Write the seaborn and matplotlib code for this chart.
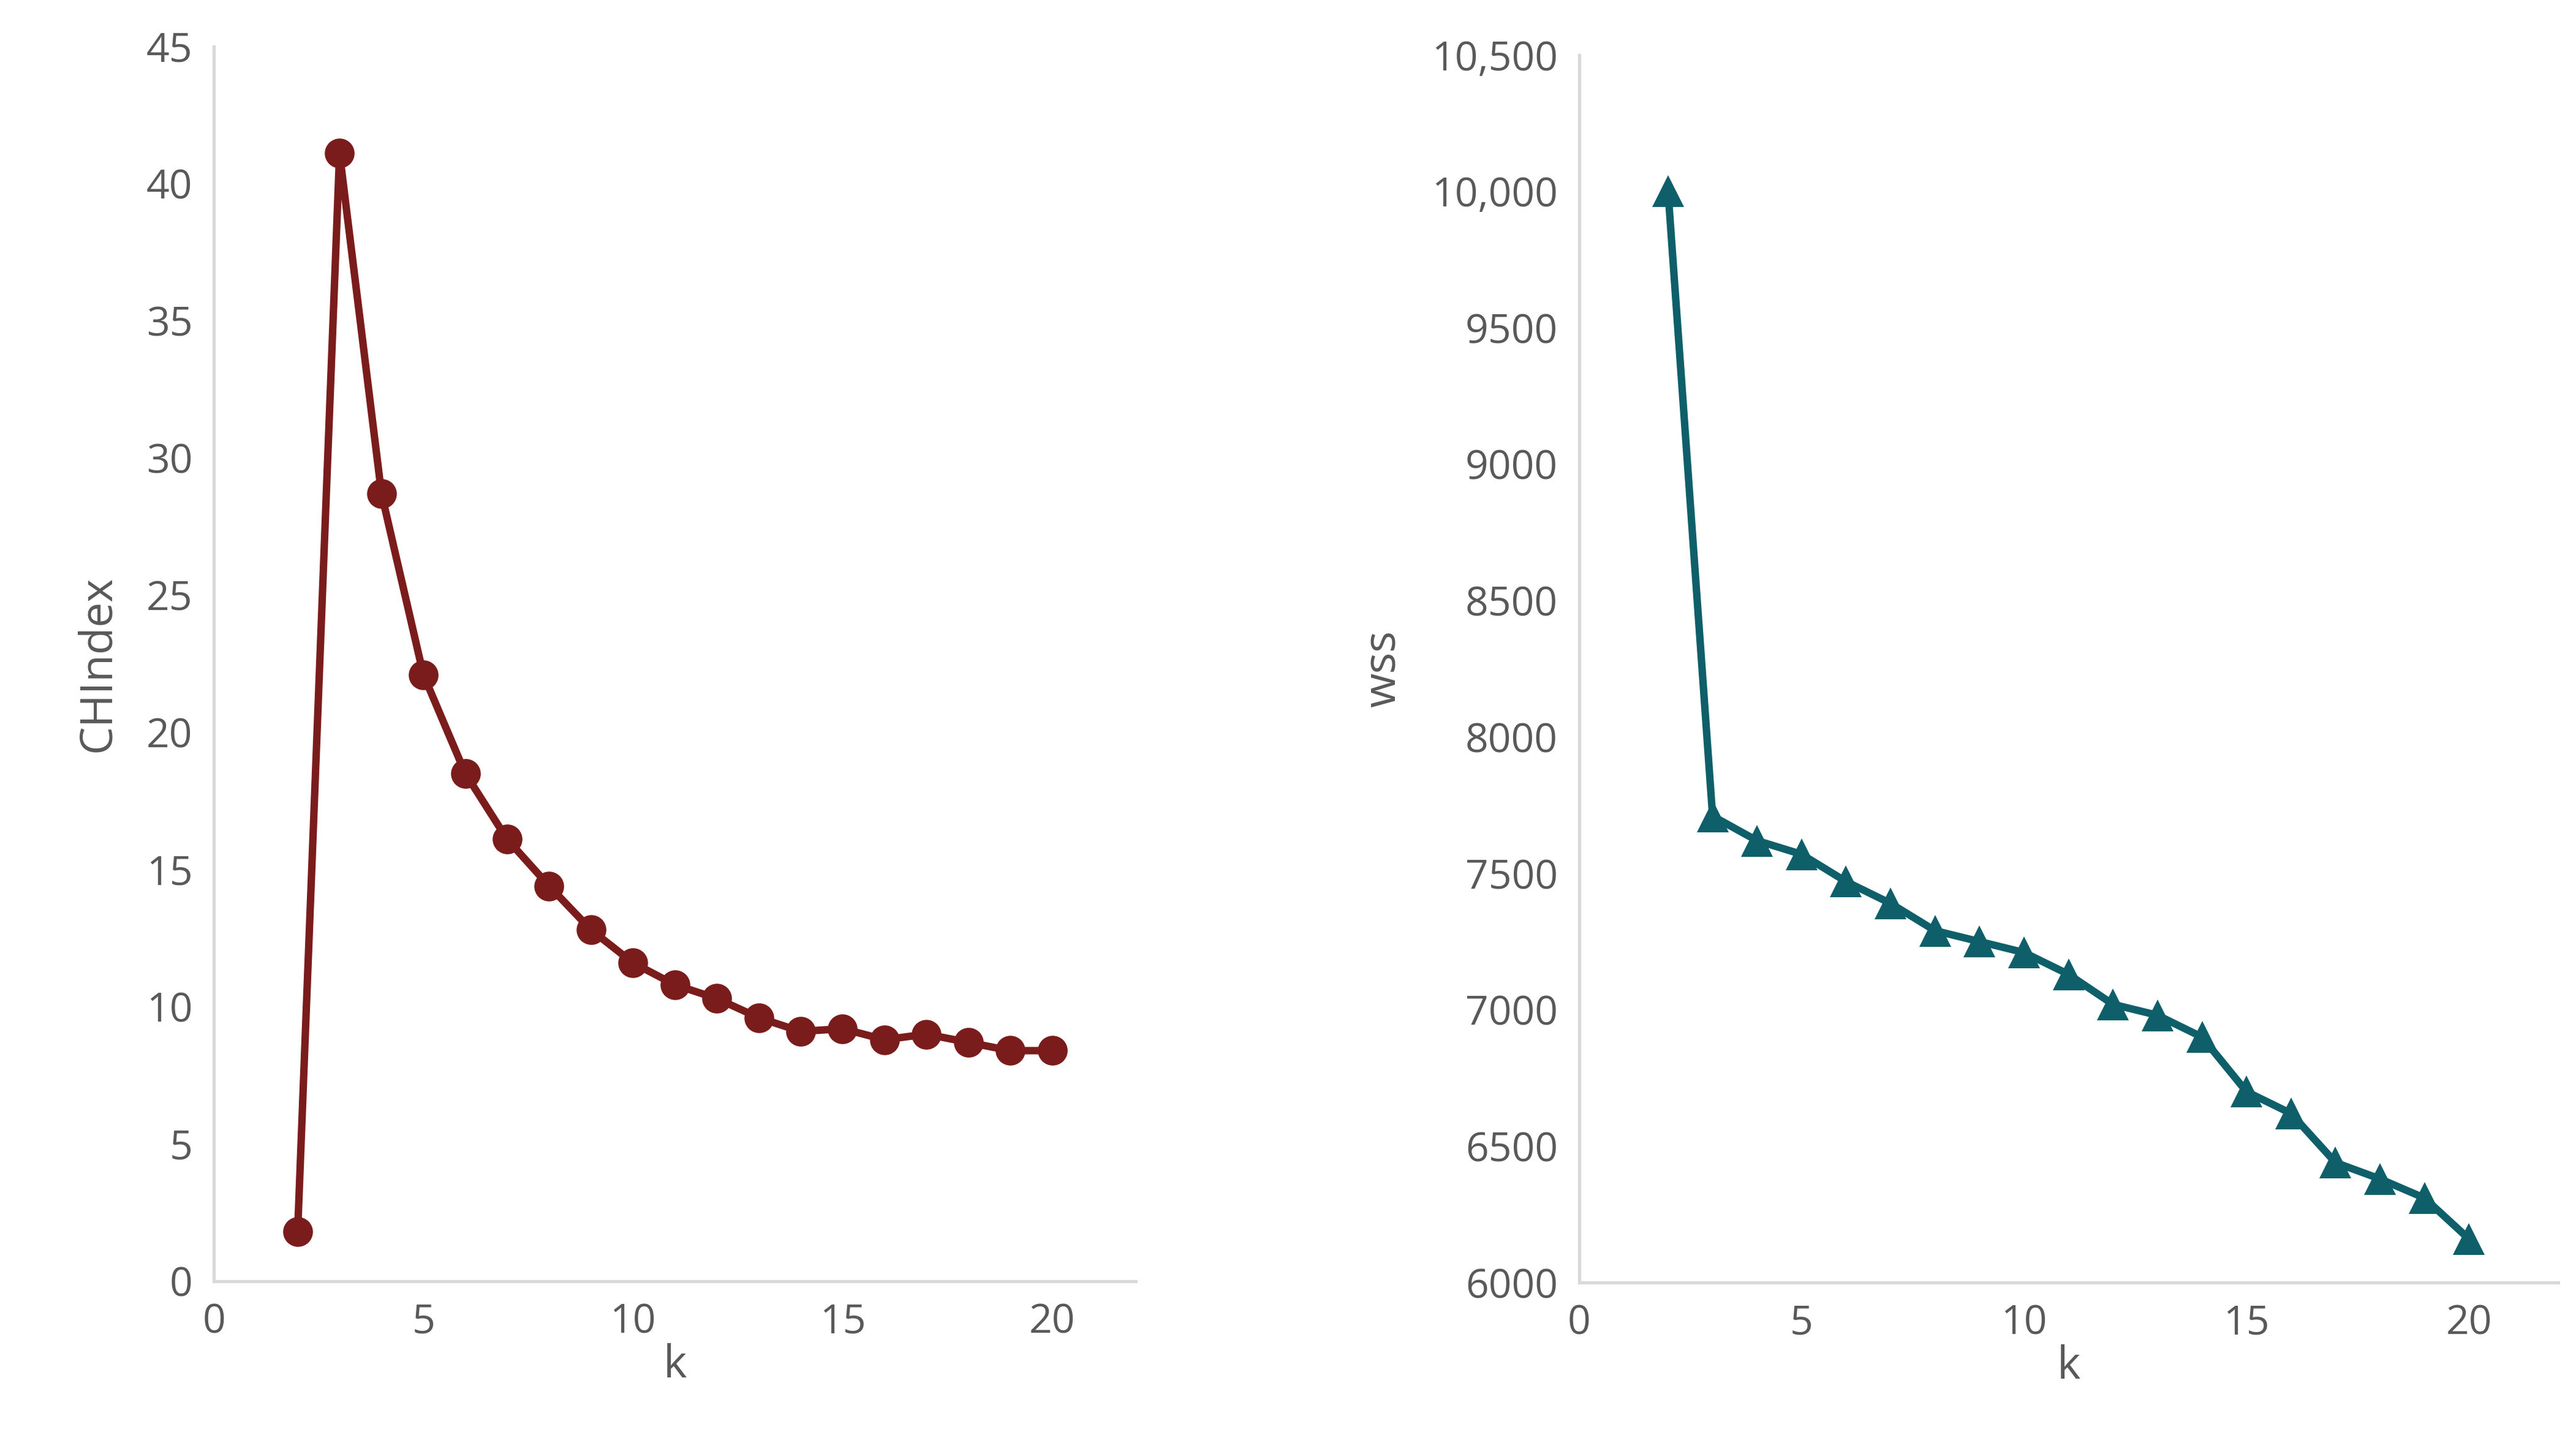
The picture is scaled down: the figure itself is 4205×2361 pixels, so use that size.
import matplotlib
matplotlib.use("Agg")
import matplotlib.pyplot as plt
import seaborn as sns
import pandas as pd

k = list(range(2, 21))
ch_index = [1.8, 41.1, 28.7, 22.1, 18.5, 16.1, 14.4, 12.8, 11.6, 10.8,
            10.3, 9.6, 9.1, 9.2, 8.8, 9.0, 8.7, 8.4, 8.4]
wss = [10000, 7710, 7620, 7570, 7470, 7390, 7290, 7250, 7210, 7130,
       7020, 6980, 6900, 6700, 6620, 6440, 6380, 6310, 6160]

df = pd.DataFrame({"k": k, "CHIndex": ch_index, "wss": wss})

sns.set_theme(style="white")
plt.rcParams["font.family"] = ["Open Sans", "DejaVu Sans"]
grey = "#595959"
axis_grey = "#D9D9D9"

fig = plt.figure(figsize=(16.82, 9.444), dpi=250)
ax1 = fig.add_axes([0.083, 0.114, 0.358, 0.854])
ax2 = fig.add_axes([0.613, 0.113, 0.380, 0.849])

sns.lineplot(data=df, x="k", y="CHIndex", ax=ax1, color="#7B1C1C", lw=3.5,
             marker="o", markersize=14, markeredgewidth=0)
sns.lineplot(data=df, x="k", y="wss", ax=ax2, color="#0E5F6A", lw=3.5,
             marker="^", markersize=15, markeredgewidth=0)

ax1.set_xlim(0, 22)
ax1.set_ylim(0, 45)
ax1.set_xticks([0, 5, 10, 15, 20])
ax1.set_yticks(range(0, 46, 5))

ax2.set_xlim(0, 22)
ax2.set_ylim(6000, 10500)
ax2.set_xticks([0, 5, 10, 15, 20])
yt = list(range(6000, 10501, 500))
ax2.set_yticks(yt)
ax2.set_yticklabels([f"{v:,}" if v >= 10000 else str(v) for v in yt])

for ax, yl in [(ax1, "CHIndex"), (ax2, "wss")]:
    ax.set_xlabel("k", fontsize=21, color=grey, labelpad=0)
    ax.set_ylabel(yl, fontsize=21, color=grey, labelpad=12)
    ax.tick_params(labelsize=19, colors=grey, length=0, pad=10)
    for s in ["top", "right"]:
        ax.spines[s].set_visible(False)
    for s in ["left", "bottom"]:
        ax.spines[s].set_color(axis_grey)
        ax.spines[s].set_linewidth(1.5)
    ax.grid(False)

fig.savefig("out.png", dpi=250)
